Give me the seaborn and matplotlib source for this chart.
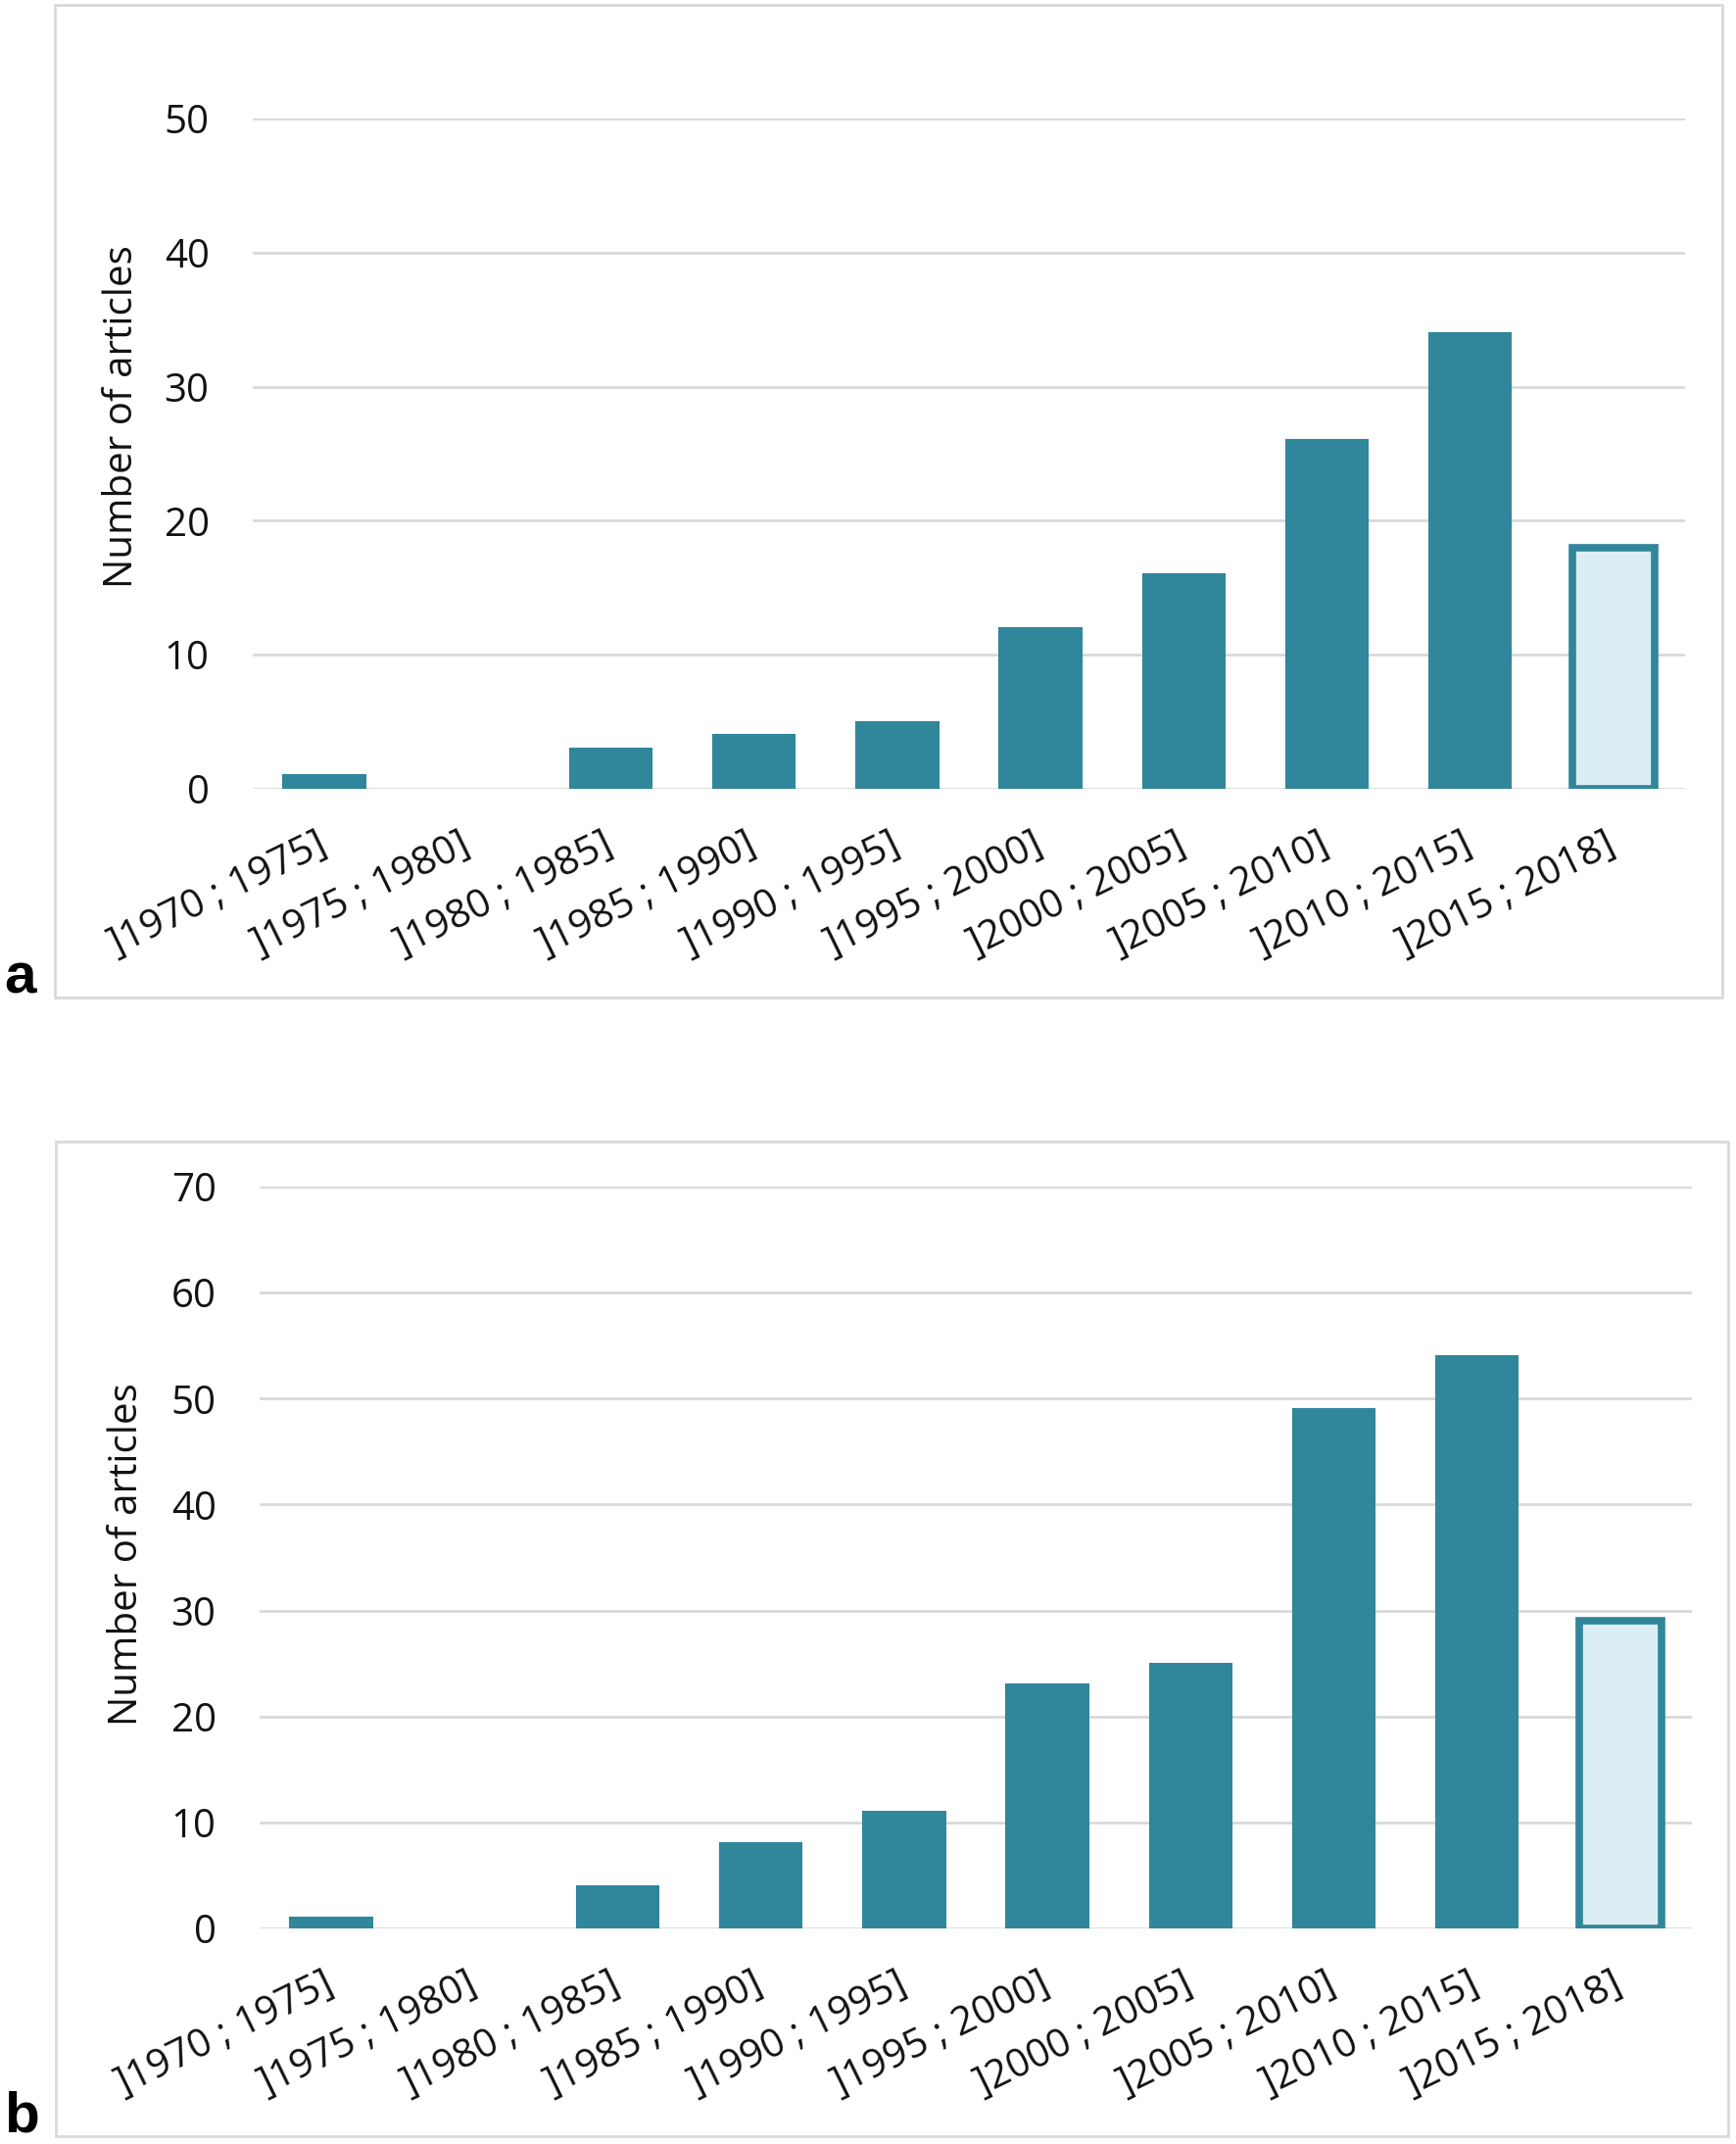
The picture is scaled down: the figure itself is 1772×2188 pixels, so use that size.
import matplotlib
matplotlib.use("Agg")
import matplotlib.pyplot as plt
import seaborn as sns
from matplotlib.patches import Rectangle

# Data
periods = ["]1970 ; 1975]", "]1975 ; 1980]", "]1980 ; 1985]", "]1985 ; 1990]",
           "]1990 ; 1995]", "]1995 ; 2000]", "]2000 ; 2005]", "]2005 ; 2010]",
           "]2010 ; 2015]", "]2015 ; 2018]"]
articles_a = [1, 0, 3, 4, 5, 12, 16, 26, 34, 18]
articles_b = [1, 0, 4, 8, 11, 23, 25, 49, 54, 29]
yticks_a = [0, 10, 20, 30, 40, 50]
yticks_b = [0, 10, 20, 30, 40, 50, 60, 70]

teal = "#30869B"
light = "#DAEEF3"
grid = "#D9D9D9"
txt = "#111111"

sns.set_style("white")
plt.rcParams['font.family'] = ['Open Sans', 'DejaVu Sans']

W, H = 1772, 2188
fig = plt.figure(figsize=(W / 100, H / 100), dpi=100)


def px_rect(x0, y0, x1, y1):
    # pixel box (top-left origin) -> figure fraction
    return [x0 / W, 1 - y1 / H, (x1 - x0) / W, (y1 - y0) / H]


def panel(ax, values, yticks, letter, frame, letter_xy, ylab_pos):
    palette = [teal] * (len(periods) - 1) + [light]
    sns.barplot(x=periods, y=values, hue=periods, palette=palette, legend=False,
                width=0.57, saturation=1, edgecolor=teal, linewidth=1.5, ax=ax)
    # no outline on empty bars
    for p in ax.patches:
        if p.get_height() == 0:
            p.set_linewidth(0)
    last = ax.patches[-1]
    last.set_edgecolor(teal)
    last.set_linewidth(5.5)
    last.set_joinstyle("miter")
    ax.set_ylim(0, yticks[-1])
    ax.set_xlim(-0.5, len(periods) - 0.5)
    ax.set_yticks(yticks)
    ax.yaxis.grid(True, color=grid, linewidth=2)
    ax.set_axisbelow(True)
    for s in ax.spines.values():
        s.set_visible(False)
    ax.tick_params(axis="both", length=0, labelsize=29, colors=txt)
    ax.tick_params(axis="y", pad=32)
    ax.tick_params(axis="x", pad=40)
    ax.set_xticks(range(len(periods)))
    ax.set_xticklabels(periods, rotation=26, ha="right", va="center",
                       rotation_mode="anchor")
    ax.set_xlabel("")
    ax.set_ylabel("Number of articles", fontsize=29, color=txt)
    ax.yaxis.set_label_coords(*ylab_pos)
    fig.add_artist(Rectangle((frame[0] / W, 1 - frame[3] / H),
                             (frame[2] - frame[0]) / W, (frame[3] - frame[1]) / H,
                             transform=fig.transFigure, fill=False,
                             edgecolor=grid, linewidth=2))
    fig.text(letter_xy[0] / W, 1 - letter_xy[1] / H, letter, fontsize=42,
             fontweight="bold", family="Liberation Sans", color="black",
             ha="left", va="baseline")


ax_a = fig.add_axes(px_rect(258, 121, 1720, 805))
panel(ax_a, articles_a, yticks_a, "a", (56, 5, 1758, 1018), (4, 1013),
      (-0.077, 0.555))

ax_b = fig.add_axes(px_rect(265, 1211, 1727, 1968))
panel(ax_b, articles_b, yticks_b, "b", (57, 1165, 1764, 2180), (4, 2175),
      (-0.079, 0.504))

fig.savefig("out.png", dpi=100, facecolor="white")
